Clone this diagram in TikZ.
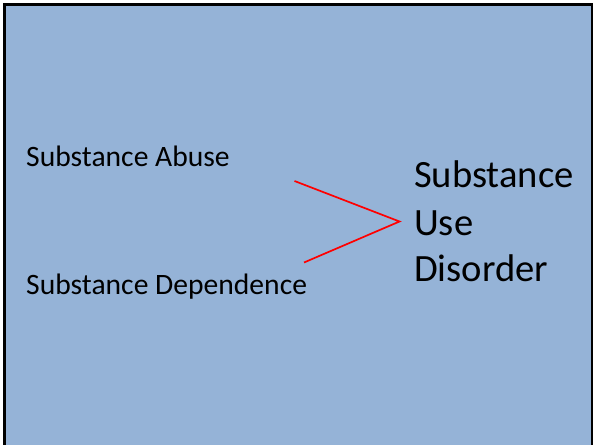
\documentclass[tikz,border=0pt]{standalone}
\usepackage{fontspec}
\setmainfont{Carlito}
\definecolor{slideblue}{HTML}{95B3D7}
\definecolor{linered}{HTML}{FF0000}
\tikzset{
  small/.style={anchor=base west, inner sep=0pt, font=\fontsize{29.6}{35}\selectfont},
  big/.style={anchor=base west, inner sep=0pt, font=\fontsize{38.6}{46.5}\selectfont},
  redline/.style={draw=linered, line width=1.7pt},
}
\begin{document}
\begin{tikzpicture}[x=1pt,y=-1pt]
\useasboundingbox (0,0) rectangle (593,444);
\clip (0,0) rectangle (593,444);
\fill[white] (0,0) rectangle (593,444);
\draw[fill=slideblue, draw=black, line width=2.6pt] (4.3,4.5) rectangle (591.8,460);
\node[small] (abuse) at (26,166) {Substance Abuse};
\node[small] (dep) at (26,294) {Substance Dependence};
\node[big] (sud1) at (414,187) {Substance};
\node[big] (sud2) at (414,235) {Use};
\node[big] (sud3) at (414,281) {Disorder};
\coordinate (p1) at (294.5,181);
\coordinate (apex) at (399.5,221.5);
\coordinate (p2) at (304,262.5);
\draw[redline] (p1) -- (apex) -- (p2);
\end{tikzpicture}
\end{document}
